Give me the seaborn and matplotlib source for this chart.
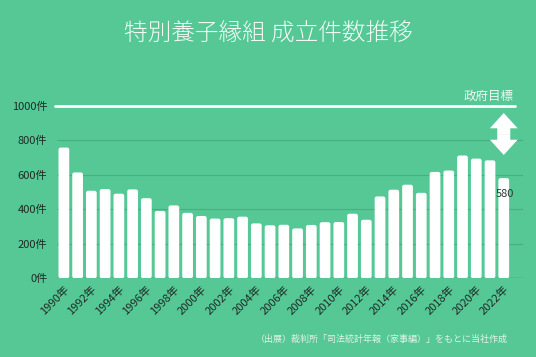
import matplotlib
matplotlib.use("Agg")
import matplotlib.pyplot as plt
from matplotlib.patches import FancyBboxPatch
import seaborn as sns
import pandas as pd

# --- data ---
years = list(range(1990, 2023))
counts = [757, 613, 507, 517, 490, 515, 464, 390, 422, 379, 361, 346, 348, 357,
          318, 307, 310, 289, 309, 325, 326, 374, 339, 474, 513, 542, 495, 616,
          624, 711, 693, 683, 580]
y_ticks = [0, 200, 400, 600, 800, 1000]
goal = 1000

title = "特別養子縁組 成立件数推移"
goal_label = "政府目標"
source = "（出展）裁判所「司法統計年報（家事編）」をもとに当社作成"

bg = "#55c896"
grid_col = "#47b083"
text_col = "#1f2b25"

sns.set_style("white")
plt.rcParams['font.family'] = ['Noto Sans CJK JP', 'DejaVu Sans']

df = pd.DataFrame({"year": [str(y) for y in years], "count": counts})

fig = plt.figure(figsize=(5.36, 3.57), dpi=100, facecolor=bg)
ax = fig.add_axes([57 / 536, 0.2204, 466 / 536, 0.508])
ax.set_facecolor(bg)

# grid + baseline
for v in y_ticks[1:-1]:
    ax.axhline(v, color=grid_col, lw=0.8, zorder=0)
ax.axhline(0, color="#3f9c73", lw=1.0, zorder=0)
ax.axhline(goal, xmin=-0.004, xmax=0.983, color="white", lw=2.0, zorder=3,
           clip_on=False)

sns.barplot(data=df, x="year", y="count", color="white", width=0.78,
            saturation=1, ax=ax, zorder=2)

ax.set_xlim(-0.5, 33.4)
ax.set_ylim(0, 1050)

# swap the plain bars for ones with slightly rounded tops
for p in list(ax.patches):
    x0, y0 = p.get_x(), p.get_y()
    w, h = p.get_width(), p.get_height()
    rb = FancyBboxPatch((x0, y0), w, h,
                        boxstyle="round,pad=0,rounding_size=0.16",
                        mutation_aspect=75, fc="white", ec="none", zorder=2)
    p.remove()
    ax.add_patch(rb)

for s in ax.spines.values():
    s.set_visible(False)

ax.set_yticks(y_ticks)
ax.set_yticklabels([f"{v}件" for v in y_ticks], fontsize=8, color=text_col)
ax.tick_params(axis="y", length=0, pad=7)

tick_pos = [i for i, y in enumerate(years) if y % 2 == 0]
ax.set_xticks(tick_pos)
ax.set_xticklabels([f"{years[i]}年" for i in tick_pos], rotation=45,
                   ha="right", va="top", rotation_mode="anchor",
                   fontsize=8, color=text_col)
ax.tick_params(axis="x", length=0, pad=4)
ax.set_xlabel("")
ax.set_ylabel("")

# last value label
last = len(counts) - 1
ax.text(last - 0.55, counts[-1] - 90, str(counts[-1]), fontsize=8,
        color="#2b3a33", ha="left", va="center", zorder=4)

# goal label
ax.text(32.7, goal + 18, goal_label, fontsize=9, color="#eef8f2",
        ha="right", va="bottom")

# double arrow between goal and latest peak
mid = 835
for end in (957, 714):
    ax.annotate("", xy=(32, end), xytext=(32, mid),
                arrowprops=dict(arrowstyle="simple,head_length=11,head_width=20,tail_width=9.4",
                                mutation_scale=1, color="white", shrinkA=0, shrinkB=0,
                                lw=0))

fig.text(268 / 536, 1 - 33 / 357, title, fontsize=17, color="#f2fbf6",
         ha="center", va="center", fontweight="light")
fig.text(508 / 536, 1 - 339 / 357, source, fontsize=6.5, color="#dff3e8",
         ha="right", va="center")

fig.savefig("out.png", dpi=100, facecolor=bg)
